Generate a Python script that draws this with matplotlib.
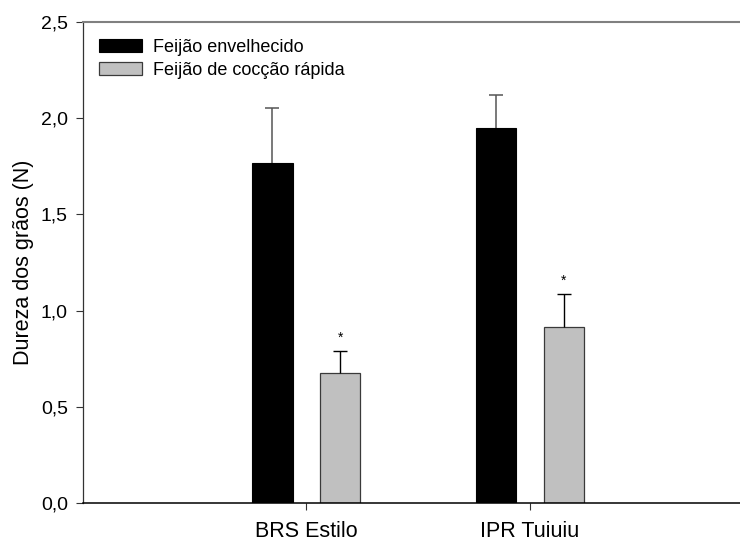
import matplotlib.pyplot as plt
import numpy as np

plt.rcParams['font.family'] = ['Liberation Sans', 'DejaVu Sans']

cultivars = ["BRS Estilo", "IPR Tuiuiu"]
envelhecido = [1.767, 1.948]
envelhecido_err = [0.288, 0.174]
coccao_rapida = [0.674, 0.915]
coccao_rapida_err = [0.117, 0.170]
yticks = [0.0, 0.5, 1.0, 1.5, 2.0, 2.5]

fig = plt.figure(figsize=(7.4, 5.43), dpi=100)
ax = fig.add_axes([0.1122, 0.0737, 0.9054, 0.8858])

x = np.arange(1, len(cultivars) + 1)
w = 0.18
off = 0.152

ax.bar(x - off, envelhecido, w, color='black', edgecolor='black', linewidth=0.8,
       label="Feijão envelhecido", zorder=2)
ax.bar(x + off, coccao_rapida, w, color='#c0c0c0', edgecolor='#3a3a3a', linewidth=0.9,
       label="Feijão de cocção rápida", zorder=2)

# only upper error bars, hide the lower caps
_, caps1, _ = ax.errorbar(x - off, envelhecido, yerr=[np.zeros(2), envelhecido_err],
                          fmt='none', ecolor='#555555', elinewidth=1.1, capsize=5,
                          capthick=1.1, zorder=1)
_, caps2, _ = ax.errorbar(x + off, coccao_rapida, yerr=[np.zeros(2), coccao_rapida_err],
                          fmt='none', ecolor='black', elinewidth=1.0, capsize=5,
                          capthick=1.0, zorder=3)
caps1[0].set_visible(False)
caps2[0].set_visible(False)

# significance markers
for xi, v, e in zip(x + off, coccao_rapida, coccao_rapida_err):
    ax.text(xi, v + e + 0.07, "*", ha='center', va='center', fontsize=10)

ax.set_xlim(0, 3)
ax.set_ylim(0, 2.5)
ax.set_xticks(x)
ax.set_xticklabels(cultivars, fontsize=15.5)
ax.set_yticks(yticks)
ax.set_yticklabels([f"{t:.1f}".replace(".", ",") for t in yticks], fontsize=14)
ax.tick_params(axis='y', direction='out', length=5, width=0.8, pad=6, colors='#333333',
               labelcolor='black')
ax.tick_params(axis='x', direction='out', length=5, width=0.8, pad=8, colors='#333333',
               labelcolor='black')

ax.set_ylabel("Dureza dos grãos (N)", fontsize=15.5, labelpad=5)

ax.spines['right'].set_visible(False)
ax.spines['top'].set_color('#808080')
ax.spines['top'].set_linewidth(1.5)
ax.spines['left'].set_color('#333333')
ax.spines['left'].set_linewidth(0.9)
ax.spines['bottom'].set_color('black')
ax.spines['bottom'].set_linewidth(1.1)

ax.legend(loc='upper left', bbox_to_anchor=(0.024, 0.965), frameon=False,
          fontsize=13, borderaxespad=0, borderpad=0, handlelength=2.4,
          handleheight=0.73, handletextpad=0.6, labelspacing=0.35)

plt.savefig("out.png", dpi=100)
